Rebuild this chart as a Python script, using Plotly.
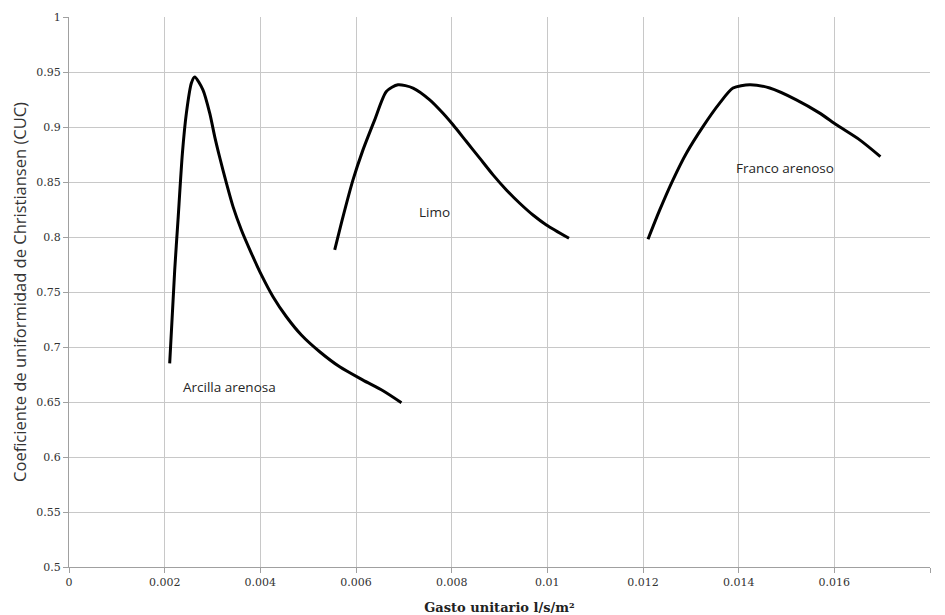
import plotly.graph_objects as go

# Arcilla arenosa
arcilla_x = [0.002105, 0.00221, 0.002279, 0.002371, 0.002454, 0.002559, 0.002628, 0.0028,
             0.002942, 0.003046, 0.00315, 0.003291, 0.003429, 0.003604, 0.003813, 0.004022,
             0.004265, 0.004545, 0.004858, 0.005241, 0.005659, 0.006146, 0.006565, 0.00695]
arcilla_y = [0.6851, 0.770, 0.8155, 0.8762, 0.9126, 0.940, 0.9454, 0.9338,
             0.9126, 0.8913, 0.8725, 0.8489, 0.8276, 0.8064, 0.7852, 0.7655,
             0.7457, 0.7275, 0.7109, 0.6957, 0.682, 0.6699, 0.6602, 0.6493]

# Limo
limo_x = [0.005555, 0.005729, 0.005937, 0.006146, 0.006391, 0.006635, 0.006878, 0.007192,
          0.007541, 0.007819, 0.008028, 0.008308, 0.008586, 0.008865, 0.009144, 0.009423,
          0.0097, 0.00998, 0.010453]
limo_y = [0.7882, 0.8185, 0.8519, 0.8792, 0.9065, 0.9323, 0.9384, 0.9354,
          0.9247, 0.9125, 0.902, 0.8868, 0.8717, 0.8565, 0.8428, 0.8307,
          0.820, 0.811, 0.7989]

# Franco arenoso
franco_x = [0.012105, 0.01235, 0.012627, 0.012907, 0.013254, 0.013603, 0.013882, 0.014231,
            0.014649, 0.015206, 0.015694, 0.016043, 0.01653, 0.016963]
franco_y = [0.798, 0.8246, 0.852, 0.8762, 0.9004, 0.9217, 0.9354, 0.9384,
            0.9354, 0.9247, 0.9126, 0.902, 0.8883, 0.8731]

labels = ["Arcilla arenosa", "Limo", "Franco arenoso"]
label_x = [0.00235, 0.00728, 0.0139]
label_y = [0.6638, 0.823, 0.8626]

x_ticks = [0, 0.002, 0.004, 0.006, 0.008, 0.01, 0.012, 0.014, 0.016, 0.018]
x_tick_text = ["0", "0.002", "0.004", "0.006", "0.008", "0.01", "0.012", "0.014", "0.016", "0.018"]
y_ticks = [0.5, 0.55, 0.6, 0.65, 0.7, 0.75, 0.8, 0.85, 0.9, 0.95, 1]
y_tick_text = ["0.5", "0.55", "0.6", "0.65", "0.7", "0.75", "0.8", "0.85", "0.9", "0.95", "1"]

fig = go.Figure()
for xs, ys, name in [(arcilla_x, arcilla_y, labels[0]), (limo_x, limo_y, labels[1]), (franco_x, franco_y, labels[2])]:
    fig.add_trace(go.Scatter(x=xs, y=ys, mode="lines", name=name,
                             line=dict(color="black", width=3, shape="spline", smoothing=0.7),
                             showlegend=False))

sans = "Open Sans, Noto Sans, sans-serif"
for t, lx, ly in zip(labels, label_x, label_y):
    fig.add_annotation(x=lx, y=ly, text=t, showarrow=False, xanchor="left", yanchor="middle",
                       font=dict(family=sans, size=13.5, color="#262626"))

serif = "DejaVu Serif, Liberation Serif, serif"
fig.update_layout(
    width=937, height=607,
    margin=dict(l=61, r=15, t=9, b=48),
    paper_bgcolor="white", plot_bgcolor="white",
    xaxis=dict(range=[0, 0.018], tickvals=x_ticks, ticktext=x_tick_text, automargin=False,
               showgrid=True, gridcolor="#c8c8c8", gridwidth=1,
               showline=True, linecolor="#a0a0a0", ticks="outside", ticklen=5, tickcolor="#a0a0a0",
               tickfont=dict(family=serif, size=11, color="#333"), zeroline=False,
               title=dict(text="<b>Gasto unitario l/s/m²</b>", font=dict(family=serif, size=13, color="#222"))),
    yaxis=dict(range=[0.5, 1], tickvals=y_ticks, ticktext=y_tick_text, automargin=False,
               showgrid=True, gridcolor="#c8c8c8", gridwidth=1,
               showline=True, linecolor="#a0a0a0", ticks="outside", ticklen=5, tickcolor="#a0a0a0",
               tickfont=dict(family=serif, size=11, color="#333"), zeroline=False,
               title=dict(text="Coeficiente de uniformidad de Christiansen (CUC)", font=dict(family=sans, size=16.5, color="#333"))),
)

fig.write_html("out.html")
